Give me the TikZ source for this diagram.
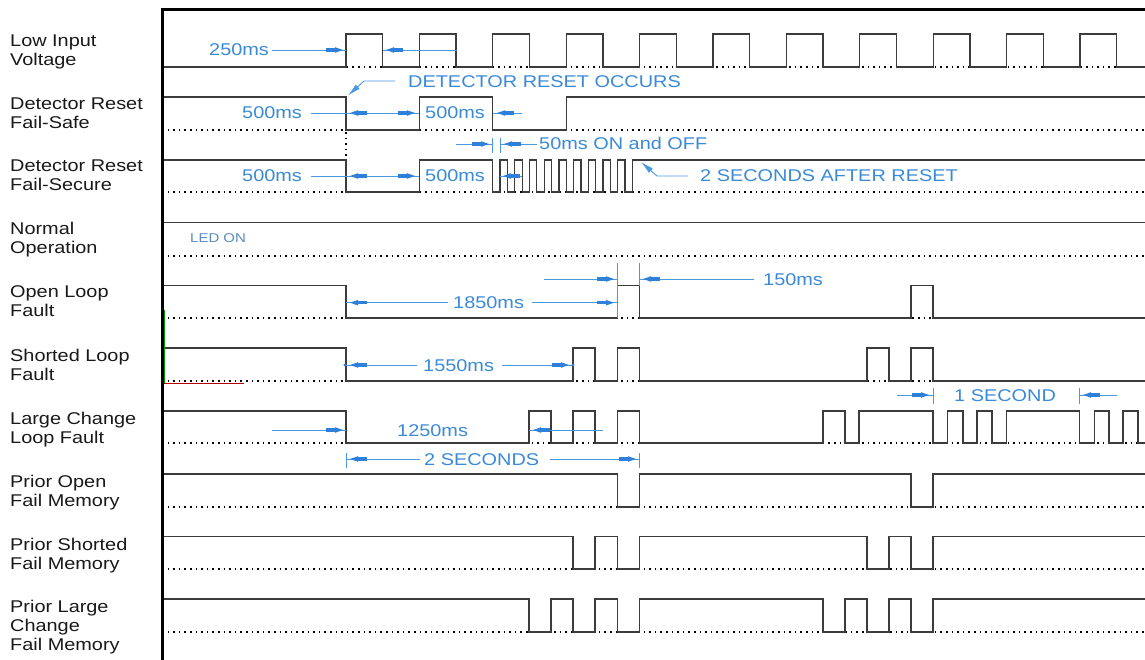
\documentclass[tikz,border=0pt]{standalone}
\usepackage{fontspec}
\setmainfont[FakeStretch=1.17]{Liberation Sans}
\usetikzlibrary{arrows.meta}
\definecolor{dimblue}{HTML}{4A98E0}
\definecolor{ahblue}{HTML}{2F80DA}
\definecolor{txtblue}{HTML}{3A8AD8}
\definecolor{ledblue}{HTML}{5B8DC0}
\definecolor{sigc}{HTML}{3C3C3C}
\tikzset{
  sig/.style={draw=sigc, line width=1.3pt, line join=miter},
  dots/.style={draw=black, line width=1.6pt, dash pattern=on 1.6pt off 4pt},
  frameline/.style={draw=black, line width=3pt},
  dim/.style={draw=dimblue, line width=0.9pt},
  lbl/.style={anchor=base west, inner sep=0pt, font=\fontsize{17}{19}\selectfont, text=black!90},
  btxt/.style={anchor=base west, inner sep=0pt, font=\fontsize{17}{19}\selectfont, text=txtblue},
  ah/.pic={\fill[ahblue] (0,0) -- (-8,2.8) -- (-8,-2.8) -- cycle;
           \fill[ahblue] (-8,-1.7) rectangle (-17,1.7);},
}
\newcommand\arR[2]{\pic at (#1,#2) {ah};}
\newcommand\arL[2]{\pic[rotate=180] at (#1,#2) {ah};}
% signal high from the left edge to 346, then low with high pulses
\newcommand\lowsig[3]{%
  \draw[dots] (162,#2) -- (1145,#2);
  \draw[sig] (162,#1) -- (346,#1) -- (346,#2)
    foreach \p/\q in {#3}{ -- (\p,#2) -- (\p,#1) -- (\q,#1) -- (\q,#2) } -- (1145,#2);}
% signal high with low windows
\newcommand\highsig[3]{%
  \draw[dots] (162,#2) -- (1145,#2);
  \draw[sig] (162,#1)
    foreach \p/\q in {#3}{ -- (\p,#1) -- (\p,#2) -- (\q,#2) -- (\q,#1) } -- (1145,#1);}
\begin{document}
\begin{tikzpicture}[x=1pt,y=-1pt]
\useasboundingbox[fill=white] (0,0) rectangle (1145,660);

% ---- labels
\node[lbl] (l1a) at (10,47) {Low Input};
\node[lbl] (l1b) at (10,66) {Voltage};
\node[lbl] (l2a) at (10,110) {Detector Reset};
\node[lbl] (l2b) at (10,129) {Fail-Safe};
\node[lbl] (l3a) at (10,172) {Detector Reset};
\node[lbl] (l3b) at (10,191) {Fail-Secure};
\node[lbl] (l4a) at (10,235) {Normal};
\node[lbl] (l4b) at (10,254) {Operation};
\node[lbl] (l5a) at (10,297) {Open Loop};
\node[lbl] (l5b) at (10,316) {Fault};
\node[lbl] (l6a) at (10,361) {Shorted Loop};
\node[lbl] (l6b) at (10,380) {Fault};
\node[lbl] (l7a) at (10,424) {Large Change};
\node[lbl] (l7b) at (10,443) {Loop Fault};
\node[lbl] (l8a) at (10,487) {Prior Open};
\node[lbl] (l8b) at (10,506) {Fail Memory};
\node[lbl] (l9a) at (10,550) {Prior Shorted};
\node[lbl] (l9b) at (10,569) {Fail Memory};
\node[lbl] (l10a) at (10,612) {Prior Large};
\node[lbl] (l10b) at (10,631) {Change};
\node[lbl] (l10c) at (10,650) {Fail Memory};

% ---- extension line under signal
\draw[dim] (639.6,263) -- (639.6,318);

% ---- R1 Low Input Voltage
\draw[dots] (162,67) -- (1145,67);
\draw[sig] (162,67) foreach \k in {0,...,10}{ -- ({346+73.4*\k},67) -- ({346+73.4*\k},34) -- ({382.7+73.4*\k},34) -- ({382.7+73.4*\k},67) } -- (1145,67);

% ---- R2 Fail-Safe
\draw[dots] (162,130) -- (1145,130);
\draw[sig] (162,97) -- (346,97) -- (346,130) -- (419.4,130) -- (419.4,97) -- (492.8,97) -- (492.8,130) -- (566.5,130) -- (566.5,97) -- (1145,97);
\draw[dots] (346,132) -- (346,160);

% ---- R3 Fail-Secure
\draw[dots] (162,192) -- (1145,192);
\draw[sig] (162,160) -- (346,160) -- (346,192) -- (419.4,192) -- (419.4,160)
  foreach \k in {0,...,9}{ -- ({492.8+14.68*\k},160) -- ({492.8+14.68*\k},192) -- ({500.14+14.68*\k},192) -- ({500.14+14.68*\k},160) } -- (1145,160);

% ---- R4 Normal Operation
\draw[sig] (162,222.5) -- (1145,222.5);
\draw[dots] (162,256) -- (1145,256);

% ---- R5..R10
\lowsig{285.5}{318}{617.6/639.6,911/933}
\lowsig{348}{381}{573/595,617.6/639.6,867/889,911/933}
\lowsig{411}{443}{529/551,573/595,617.6/639.6,823/845,859/933,947.5/963,977/992,1006.5/1079.5,1094.5/1109,1123/1138}
\highsig{474}{507}{617.6/639.6,911/933}
\highsig{536.5}{569}{573/595,617.6/639.6,867/889,911/933}
\highsig{599}{632}{529/551,573/595,617.6/639.6,823/845,867/889,911/933}

% ---- annotations
\node[btxt] (t250) at (209,56) {250ms};
\draw[dim] (272,50) -- (346,50); \arR{343}{50}
\draw[dim] (456.7,50) -- (382.7,50); \arL{386}{50}

\node[btxt] (tdro) at (408,88) {DETECTOR RESET OCCURS};
\draw[dim,-{Latex[length=13pt,width=6pt]}] (395,81) -- (364,81) -- (348,95.5);

\node[btxt] (t500a) at (242,119) {500ms};
\node[btxt] (t500b) at (425,119) {500ms};
\draw[dim] (311,113) -- (419.4,113); \arL{350}{113} \arR{415}{113}
\draw[dim] (522,113) -- (492.8,113); \arL{497}{113}

\draw[dim] (456,144) -- (492.8,144); \arR{489}{144}
\draw[dim] (492.8,138) -- (492.8,153);
\draw[dim] (500.1,138) -- (500.1,153);
\draw[dim] (537,144) -- (500.1,144); \arL{504}{144}
\node[btxt] (t50) at (539,150) {50ms ON and OFF};

\node[btxt] (t500c) at (242,182) {500ms};
\node[btxt] (t500d) at (425,182) {500ms};
\draw[dim] (311,176) -- (419.4,176); \arL{350}{176} \arR{415}{176}
\draw[dim] (522,176) -- (500.1,176); \arL{503}{176}

\draw[dim,-{Latex[length=13pt,width=6pt]}] (688,176) -- (657,176) -- (641,162);
\node[btxt] (t2sar) at (700,182) {2 SECONDS AFTER RESET};

\node[anchor=base west, inner sep=0pt, font=\fontsize{12.8}{14}\selectfont, text=ledblue] (tled) at (190,242.5) {LED ON};

\draw[dim] (617.6,263) -- (617.6,318);
\draw[dim] (639.6,263) -- (639.6,285.5);
\draw[dim] (544,279) -- (617.6,279); \arR{614}{279}
\draw[dim] (754,279) -- (639.6,279); \arL{643}{279}
\node[btxt] (t150) at (763,285) {150ms};
\draw[dim] (346,302.7) -- (448,302.7); \arL{350}{302.7}
\node[btxt] (t1850) at (453,308.7) {1850ms};
\draw[dim] (532,302.7) -- (617.6,302.7); \arR{614}{302.7}

\draw[dim] (346,365) -- (417,365); \arL{350}{365}
\node[btxt] (t1550) at (423,371) {1550ms};
\draw[dim] (502,365) -- (573,365); \arR{569}{365}
\fill[ahblue] (345,365) circle[radius=1.6pt];
\fill[ahblue] (573,365) circle[radius=1.6pt];

\draw[dim] (933,388) -- (933,404);
\draw[dim] (1079.5,388) -- (1079.5,404);
\draw[dim] (897,395) -- (933,395); \arR{929}{395}
\draw[dim] (1117,395) -- (1079.5,395); \arL{1083}{395}
\node[btxt] (t1s) at (954,401) {1 SECOND};

\draw[dim] (272,430) -- (346,430); \arR{343}{430}
\node[btxt] (t1250) at (397,436) {1250ms};
\draw[dim] (603,430) -- (529,430); \arL{533}{430}

\draw[dim] (346,453) -- (346,468);
\draw[dim] (639.6,453) -- (639.6,468);
\draw[dim] (346,459) -- (420,459); \arL{350}{459}
\node[btxt] (t2s) at (424,465) {2 SECONDS};
\draw[dim] (550,459) -- (639.6,459); \arR{636}{459}

% ---- stray marks
\draw[green!60!black, line width=0.8pt] (164,310) -- (164,383);
\draw[red!70!black, line width=0.8pt] (164,383.5) -- (244,383.5);

% ---- frame
\draw[frameline] (162,660) -- (162,9.5) -- (1145,9.5);
\end{tikzpicture}
\end{document}
